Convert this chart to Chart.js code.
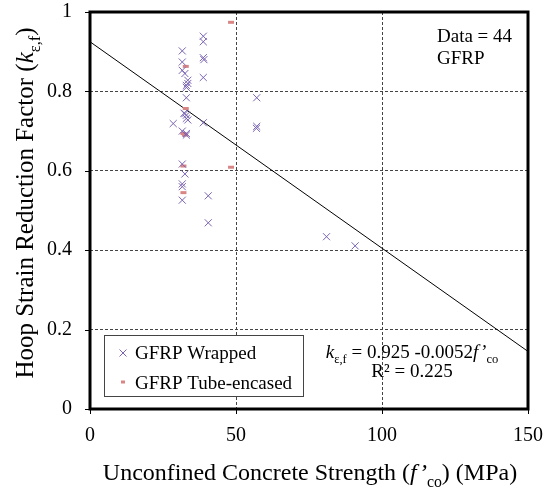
<!DOCTYPE html>
<html>
<head>
<meta charset="utf-8">
<script src="https://cdn.jsdelivr.net/npm/chart.js@4.4.0/dist/chart.umd.min.js"></script>
<style>
  html, body { margin: 0; padding: 0; background: #fff; }
</style>
</head>
<body>
<canvas id="chart" width="546" height="492"></canvas>
<script>
// GFRP wrapped specimens: f'co (MPa) and k_e,f
const wrappedX = [31.6, 31.6, 31.6, 32.5, 33.5, 33, 33, 33, 32.5, 33, 33, 33.5, 28.5, 31.6, 33, 33,
  31.6, 32.5, 31.6, 31.6, 31.6, 38.8, 38.8, 38.8, 39, 38.8, 38.8, 40.5, 40.5, 57.1, 57.1, 57,
  81, 90.8, 33.5, 32.2];
const wrappedY = [0.902, 0.874, 0.853, 0.845, 0.828, 0.815, 0.81, 0.784, 0.744, 0.74, 0.732, 0.728, 0.719, 0.70, 0.694, 0.69,
  0.617, 0.592, 0.567, 0.56, 0.526, 0.939, 0.925, 0.885, 0.88, 0.835, 0.721, 0.537, 0.469, 0.784, 0.712, 0.707,
  0.434, 0.411, 0.82, 0.745];

// GFRP tube-encased specimens
const tubeX = [48.3, 48.3, 32.8, 32.8, 32, 32.5, 32, 32];
const tubeY = [0.974, 0.609, 0.863, 0.757, 0.694, 0.69, 0.612, 0.545];

// trend line end points (k = 0.925 - 0.0052 f'co)
const trendX = [0, 150];
const trendY = [0.925, 0.145];

const xTicks = [0, 50, 100, 150];
const yTicks = [0, 0.2, 0.4, 0.6, 0.8, 1];

const purple = '#7a63b3';
const pink = '#d98585';
const serif = 'Liberation Serif';

function pts(xs, ys) {
  return xs.map((x, i) => ({ x: x, y: ys[i] }));
}

// draws text made of pieces, some italic, some subscript
function richText(ctx, parts, x, y, size, align) {
  const fontOf = p => (p.i ? 'italic ' : '') + (p.s ? size * 0.66 : size) + 'px ' + serif;
  let w = 0;
  parts.forEach(p => { ctx.font = fontOf(p); w += ctx.measureText(p.t).width; });
  let cx = align === 'center' ? x - w / 2 : x;
  ctx.textAlign = 'left';
  ctx.textBaseline = 'alphabetic';
  parts.forEach(p => {
    ctx.font = fontOf(p);
    ctx.fillText(p.t, cx, y + (p.s ? size * 0.28 : 0));
    cx += ctx.measureText(p.t).width;
  });
}

const extras = {
  id: 'extras',
  afterDraw(chart) {
    const ctx = chart.ctx;
    const a = chart.chartArea;
    const sx = chart.scales.x, sy = chart.scales.y;
    ctx.save();
    // small outside tick marks
    ctx.strokeStyle = '#000';
    ctx.lineWidth = 1;
    ctx.beginPath();
    yTicks.forEach(v => {
      const p = Math.round(sy.getPixelForValue(v)) + 0.5;
      ctx.moveTo(a.left - 5, p); ctx.lineTo(a.left, p);
    });
    xTicks.forEach(v => {
      const p = Math.round(sx.getPixelForValue(v)) + 0.5;
      ctx.moveTo(p, a.bottom); ctx.lineTo(p, a.bottom + 5);
    });
    ctx.stroke();
    // thick frame
    ctx.lineWidth = 3;
    ctx.strokeRect(a.left, a.top, a.right - a.left, a.bottom - a.top);

    ctx.fillStyle = '#000';
    // axis titles
    richText(ctx, [{ t: 'Unconfined Concrete Strength (' }, { t: 'f\u2019', i: true }, { t: 'co', s: true }, { t: ') (MPa)' }],
      310, 480, 24, 'center');
    ctx.save();
    ctx.translate(33, 203);
    ctx.rotate(-Math.PI / 2);
    richText(ctx, [{ t: 'Hoop Strain Reduction Factor (' }, { t: 'k', i: true }, { t: '\u03b5,f', s: true }, { t: ')' }],
      0, 0, 25, 'center');
    ctx.restore();

    // notes
    richText(ctx, [{ t: 'Data = 44' }], 437, 42, 19, 'left');
    richText(ctx, [{ t: 'GFRP' }], 437, 64, 19, 'left');
    richText(ctx, [{ t: 'k', i: true }, { t: '\u03b5,f', s: true }, { t: ' = 0.925 -0.0052' }, { t: 'f\u2019', i: true }, { t: 'co', s: true }],
      412, 358, 19, 'center');
    richText(ctx, [{ t: 'R\u00b2 = 0.225' }], 412, 377, 19, 'center');

    // legend box
    ctx.fillStyle = '#fff';
    ctx.fillRect(104.5, 335.5, 199, 61);
    ctx.strokeStyle = '#444';
    ctx.lineWidth = 1;
    ctx.strokeRect(104.5, 335.5, 199, 61);
    ctx.strokeStyle = purple;
    ctx.beginPath();
    ctx.moveTo(119.5, 349.5); ctx.lineTo(126.5, 356.5);
    ctx.moveTo(126.5, 349.5); ctx.lineTo(119.5, 356.5);
    ctx.stroke();
    ctx.strokeStyle = pink;
    ctx.lineWidth = 3;
    ctx.beginPath();
    ctx.moveTo(121, 382); ctx.lineTo(125, 382);
    ctx.stroke();
    ctx.fillStyle = '#000';
    richText(ctx, [{ t: 'GFRP Wrapped' }], 135, 359, 19, 'left');
    richText(ctx, [{ t: 'GFRP Tube-encased' }], 135, 389, 19, 'left');
    ctx.restore();
  }
};

Chart.defaults.font.family = serif;
Chart.defaults.color = '#000';

new Chart(document.getElementById('chart'), {
  type: 'scatter',
  data: {
    datasets: [
      {
        label: 'GFRP Wrapped',
        data: pts(wrappedX, wrappedY),
        pointStyle: 'crossRot',
        radius: 5,
        borderColor: purple,
        borderWidth: 1
      },
      {
        label: 'GFRP Tube-encased',
        data: pts(tubeX, tubeY),
        pointStyle: 'line',
        radius: 3,
        borderColor: pink,
        borderWidth: 3
      },
      {
        label: 'trend',
        data: pts(trendX, trendY),
        showLine: true,
        pointRadius: 0,
        borderColor: '#000',
        borderWidth: 1
      }
    ]
  },
  options: {
    responsive: false,
    animation: false,
    layout: { padding: { top: 12, right: 18, left: 0, bottom: 0 } },
    plugins: {
      legend: { display: false },
      tooltip: { enabled: false }
    },
    scales: {
      x: {
        type: 'linear',
        min: 0,
        max: 150,
        afterBuildTicks: s => { s.ticks = xTicks.map(v => ({ value: v })); },
        afterFit: s => { s.height = 83; },
        ticks: { font: { size: 20, lineHeight: 1 }, padding: 0, maxRotation: 0 },
        grid: { color: '#444', lineWidth: 1, tickLength: 17, tickColor: 'rgba(0,0,0,0)', tickBorderDash: [] },
        border: { display: false, dash: [3, 2] }
      },
      y: {
        type: 'linear',
        min: 0,
        max: 1,
        afterBuildTicks: s => { s.ticks = yTicks.map(v => ({ value: v })); },
        afterFit: s => { s.width = 90; },
        ticks: { font: { size: 20, lineHeight: 1 }, padding: 0, callback: v => String(+v.toFixed(1)) },
        grid: { color: '#444', lineWidth: 1, tickLength: 18, tickColor: 'rgba(0,0,0,0)', tickBorderDash: [] },
        border: { display: false, dash: [3, 2] }
      }
    }
  },
  plugins: [extras]
});
</script>
</body>
</html>
